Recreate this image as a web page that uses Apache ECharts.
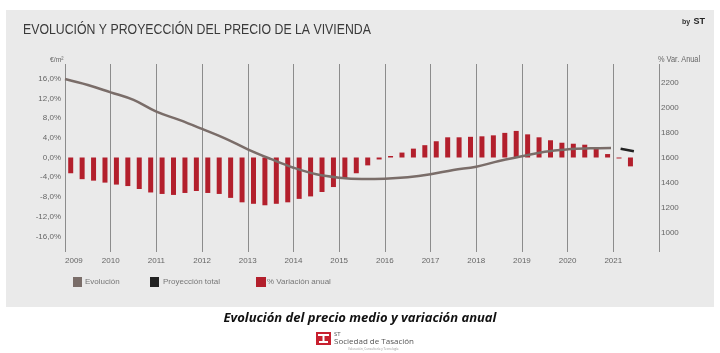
<!DOCTYPE html>
<html>
<head>
<meta charset="utf-8">
<script src="https://cdn.jsdelivr.net/npm/echarts@6/dist/echarts.min.js"></script>
<style>
  html, body { margin: 0; padding: 0; background: #fff; }
  #chart { width: 720px; height: 353px; }
</style>
</head>
<body>
<div id="chart"></div>
<script>
// quarterly categories 2009T1 .. 2021T4
var years = ['2009','2010','2011','2012','2013','2014','2015','2016','2017','2018','2019','2020','2021'];
var quarters = [];
years.forEach(function (y) { ['T1','T2','T3','T4'].forEach(function (q) { quarters.push(y + q); }); });

// % variación anual (quarterly)
var varAnual = [
  -3.2, -4.4, -4.7, -5.1,
  -5.5, -5.8, -6.4, -7.1,
  -7.4, -7.6, -7.2, -6.8,
  -7.2, -7.4, -8.2, -9.1,
  -9.4, -9.7, -9.4, -9.1,
  -8.4, -7.9, -7.0, -6.0,
  -4.2, -3.2, -1.6, -0.4,
   0.3,  1.0,  1.8,  2.5,
   3.3,  4.1,  4.1,  4.2,
   4.3,  4.5,  5.0,  5.4,
   4.7,  4.1,  3.5,  3.0,
   2.8,  2.6,  1.8,  0.7,
  -0.2, -1.8, null, null
];

// evolución precio €/m2
var evoYears  = [2009, 2009.5, 2010, 2010.5, 2011, 2011.5, 2012, 2012.5, 2013, 2013.5, 2014, 2014.5, 2015, 2015.5, 2016, 2016.5, 2017, 2017.5, 2018, 2018.5, 2019, 2019.5, 2020, 2020.5, 2020.95];
var evoPrices = [2230, 2182, 2123, 2062, 1968, 1902, 1830, 1755, 1667, 1590, 1520, 1467, 1440, 1430, 1432, 1443, 1467, 1502, 1528, 1574, 1611, 1648, 1667, 1675, 1678];

// proyección total
var projYears  = [2021.16, 2021.45];
var projPrices = [1672, 1651];

var pctTicks = [-16, -12, -8, -4, 0, 4, 8, 12, 16];
var priceTicks = [1000, 1200, 1400, 1600, 1800, 2000, 2200];

var FONT = "'Liberation Sans', Arial, sans-serif";
var LBL = '#666';
var BAR = '#b31f2c';
var EVO = '#7a6d69';
var PROJ = '#222222';

function zip(a, b) { return a.map(function (v, i) { return [v, b[i]]; }); }

var myChart = echarts.init(document.getElementById('chart'));
var option = {
  backgroundColor: '#ffffff',
  animation: false,
  graphic: [
    { type: 'rect', z: -100, shape: { x: 6, y: 10, width: 708, height: 297 }, style: { fill: '#eaeaea' } },
    { type: 'text', x: 23, y: 22, scaleX: 0.82, style: { text: 'EVOLUCIÓN Y PROYECCIÓN DEL PRECIO DE LA VIVIENDA', font: '15px ' + FONT, fill: '#3a3a3a' } },
    { type: 'text', left: 682, top: 16, style: {
        text: '{a|by} {b|ST}',
        rich: { a: { fontSize: 7, fontWeight: 'bold', fill: '#333', fontFamily: FONT }, b: { fontSize: 9, fontWeight: 'bold', fill: '#222', fontFamily: FONT } }
    } },
    { type: 'text', x: 50, y: 56, scaleX: 0.85, style: { text: '€/m²', font: '8px ' + FONT, fill: LBL } },
    { type: 'text', x: 658, y: 55, scaleX: 0.82, style: { text: '% Var. Anual', font: '9px ' + FONT, fill: LBL } },
    { type: 'text', left: 'center', top: 312, style: { text: 'Evolución del precio medio y variación anual', font: 'italic bold 13px "Open Sans", sans-serif', fill: '#111' } },
    { type: 'group', left: 316, top: 332, children: [
        { type: 'rect', shape: { x: 0, y: 0, width: 15, height: 13 }, style: { fill: '#c8202f' } },
        { type: 'rect', shape: { x: 2, y: 2, width: 11, height: 2 }, style: { fill: '#fff' } },
        { type: 'rect', shape: { x: 6.5, y: 4, width: 2, height: 7 }, style: { fill: '#fff' } },
        { type: 'rect', shape: { x: 3, y: 9, width: 9, height: 2 }, style: { fill: '#fff' } }
    ] },
    { type: 'text', left: 334, top: 331, style: { text: 'ST', font: '6px "Open Sans", sans-serif', fill: '#555' } },
    { type: 'text', left: 334, top: 338, style: { text: 'Sociedad de Tasación', font: '8px "Open Sans", sans-serif', fill: '#555' } },
    { type: 'text', left: 348, top: 348, style: { text: 'Valoración, Consultoría y Tecnología', font: '3px "Open Sans", sans-serif', fill: '#999' } }
  ],
  legend: [
    { data: ['Evolución'], left: 73, top: 277, padding: 0, icon: 'rect', itemWidth: 9, itemHeight: 10,
      textStyle: { fontSize: 8, color: '#777', fontFamily: FONT, padding: [0, 0, 0, -2] } },
    { data: ['Proyección total'], left: 150, top: 277, padding: 0, icon: 'rect', itemWidth: 9, itemHeight: 10,
      textStyle: { fontSize: 8, color: '#777', fontFamily: FONT, padding: [0, 0, 0, -1] } },
    { data: ['% Variación anual'], left: 256, top: 277, padding: 0, icon: 'rect', itemWidth: 10, itemHeight: 10,
      textStyle: { fontSize: 8, color: '#777', fontFamily: FONT, padding: [0, 0, 0, -4] } }
  ],
  grid: [
    { left: 65, width: 594, top: 59, height: 197 },     // barras, eje %
    { left: 65, width: 594, top: 64, height: 188 },     // años y líneas verticales
    { left: 65, width: 594, top: 57.7, height: 200 }    // precio, eje derecho
  ],
  xAxis: [
    { gridIndex: 0, type: 'category', data: quarters, show: false },
    { gridIndex: 1, type: 'value', min: 2009, max: 2022, interval: 1,
      axisLine: { show: false }, axisTick: { show: false },
      splitLine: { show: true, lineStyle: { color: '#8c8c8c', width: 1 } },
      axisLabel: {
        margin: 5, color: LBL, fontSize: 8, fontFamily: FONT, alignMinLabel: 'left',
        formatter: function (v) { return years.indexOf(String(v)) >= 0 ? String(v) : ''; }
      } },
    { gridIndex: 2, type: 'value', min: 2009, max: 2022, show: false }
  ],
  yAxis: [
    { gridIndex: 0, type: 'value', min: -20, max: 20, interval: 4,
      axisLine: { show: false }, axisTick: { show: false }, splitLine: { show: false },
      axisLabel: {
        margin: 4, color: LBL, fontSize: 8, fontFamily: FONT,
        formatter: function (v) { return pctTicks.indexOf(v) >= 0 ? v.toFixed(1).replace('.', ',') + '%' : ''; }
      } },
    { gridIndex: 1, type: 'value', show: false },
    { gridIndex: 2, type: 'value', position: 'right', min: 800, max: 2400, interval: 200,
      axisLine: { show: false }, axisTick: { show: false }, splitLine: { show: false },
      axisLabel: {
        margin: 2, color: LBL, fontSize: 8, fontFamily: FONT,
        formatter: function (v) { return priceTicks.indexOf(v) >= 0 ? String(v) : ''; }
      } }
  ],
  series: [
    { name: '% Variación anual', type: 'bar', xAxisIndex: 0, yAxisIndex: 0,
      barWidth: 5, itemStyle: { color: BAR }, data: varAnual },
    { name: 'Evolución', type: 'line', xAxisIndex: 2, yAxisIndex: 2, smooth: 0.4,
      showSymbol: false, symbol: 'none', z: 5,
      itemStyle: { color: EVO }, lineStyle: { color: EVO, width: 2.5 },
      data: zip(evoYears, evoPrices) },
    { name: 'Proyección total', type: 'line', xAxisIndex: 2, yAxisIndex: 2,
      showSymbol: false, symbol: 'none', z: 5,
      itemStyle: { color: PROJ }, lineStyle: { color: PROJ, width: 2.5 },
      data: zip(projYears, projPrices) }
  ]
};
myChart.setOption(option);
</script>
</body>
</html>
